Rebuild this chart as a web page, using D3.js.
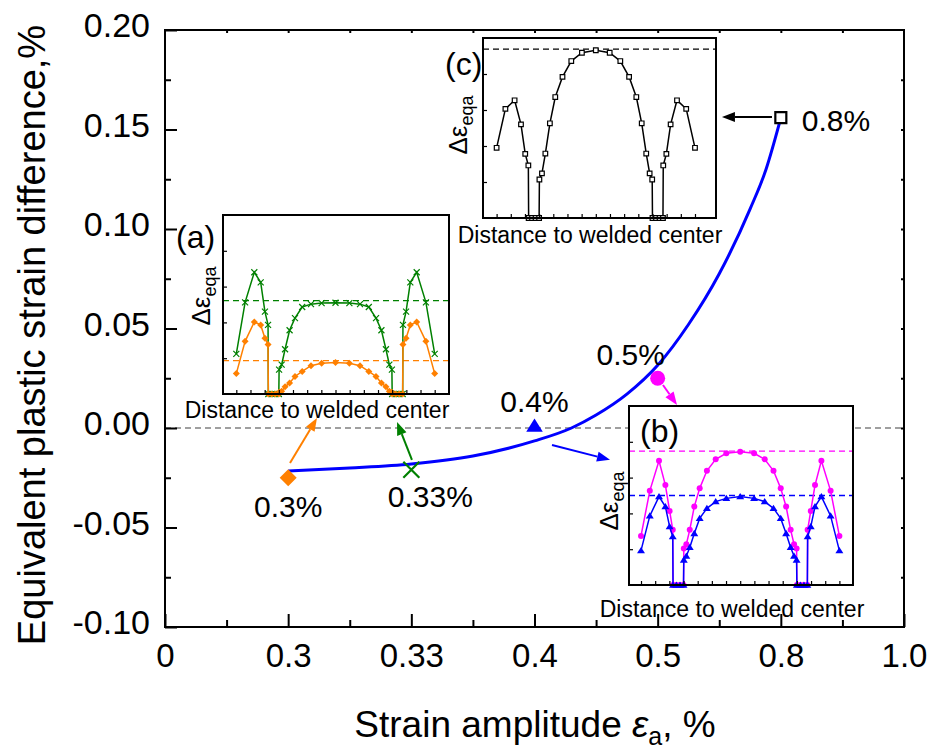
<!DOCTYPE html>
<html>
<head>
<meta charset="utf-8">
<script src="https://cdn.jsdelivr.net/npm/d3@7"></script>
<style>
body { margin: 0; background: #fff; }
svg { display: block; font-family: "Liberation Sans", Arial, sans-serif; }
</style>
</head>
<body>
<svg id="chart" width="930" height="753"></svg>
<script>
// main axis categories (evenly spaced)
const xLabels = ['0', '0.3', '0.33', '0.4', '0.5', '0.8', '1.0'];
const yTicks = [-0.10, -0.05, 0, 0.05, 0.10, 0.15, 0.20];

// measured points
const amplitudes = ['0.3%', '0.33%', '0.4%', '0.5%', '0.8%'];
const pointIdx = [1, 2, 3, 4, 5];
const pointDiff = [-0.025, -0.021, 0.001, 0.025, 0.156];
const pointColors = ['#ff8000', '#008000', '#0000ff', '#ff00ff', '#000000'];
const pointShapes = ['diamond', 'cross', 'triangle', 'circle', 'square'];

// fitted blue curve
const fitIdx = [1.0, 1.5, 2.0, 2.5, 3.0, 3.3, 3.5, 3.75, 4.0, 4.25, 4.5, 4.75, 4.88, 5.0];
const fitDiff = [-0.0216, -0.0201, -0.0181, -0.0141, -0.0065, 0.0, 0.0065, 0.0170, 0.0315, 0.0520, 0.0775, 0.1100, 0.1300, 0.1558];

// arrows from points to insets
const arrowFromIdx = [1.015, 2.005, 3.142, 4.043, 4.928];
const arrowFromVal = [-0.0176, -0.016, -0.0085, 0.0216, 0.1563];
const arrowToIdx = [1.234, 1.884, 3.613, 4.157, 4.522];
const arrowToVal = [0.005, 0.003, -0.016, 0.0116, 0.1563];

// inset profiles: distance to welded center (arb. units) and strain difference
const distPos = [-7.0, -6.38, -5.73, -5.28, -4.98, -4.76, -4.74, -4.5, -4.25, -4.0,
  -3.98, -3.8, -3.56, -3.24, -2.86, -2.35, -1.73, -0.98, 0, 0.98, 1.73, 2.35, 2.86, 3.24, 3.56, 3.8, 3.98,
  4.0, 4.25, 4.5, 4.74, 4.76, 4.98, 5.28, 5.73, 6.38, 7.0];
const prof033 = [1.12, 2.56, 3.40, 3.12, 2.30, 1.93, 0, 0, 0, 0,
  0.68, 0.82, 1.25, 1.78, 2.12, 2.43, 2.51, 2.54, 2.55, 2.54, 2.51, 2.43, 2.12, 1.78, 1.25, 0.82, 0.68,
  0, 0, 0, 0, 1.93, 2.30, 3.12, 3.40, 2.56, 1.12];
const prof03 = [0.57, 1.47, 2.01, 1.93, 1.56, 1.38, 0, 0, 0, 0,
  0.05, 0.08, 0.20, 0.31, 0.49, 0.63, 0.79, 0.86, 0.88, 0.86, 0.79, 0.63, 0.49, 0.31, 0.20, 0.08, 0.05,
  0, 0, 0, 0, 1.38, 1.56, 1.93, 2.01, 1.47, 0.57];
const prof05 = [1.37, 2.63, 3.47, 2.79, 2.07, 1.54, 0, 0, 0, 0,
  1.02, 1.14, 1.54, 2.19, 2.70, 3.19, 3.51, 3.68, 3.72, 3.68, 3.51, 3.19, 2.70, 2.19, 1.54, 1.14, 1.02,
  0, 0, 0, 0, 1.54, 2.07, 2.79, 3.47, 2.63, 1.37];
const prof04 = [0.96, 1.93, 2.47, 2.19, 1.63, 1.35, 0, 0, 0, 0,
  0.70, 0.81, 1.05, 1.44, 1.86, 2.14, 2.33, 2.42, 2.47, 2.42, 2.33, 2.14, 1.86, 1.44, 1.05, 0.81, 0.70,
  0, 0, 0, 0, 1.35, 1.63, 2.19, 2.47, 1.93, 0.96];
const prof08 = [1.95, 3.03, 3.27, 2.60, 1.78, 1.46, 0, 0, 0, 0,
  1.07, 1.24, 1.79, 2.63, 3.36, 3.92, 4.36, 4.59, 4.66, 4.59, 4.36, 3.92, 3.36, 2.63, 1.79, 1.24, 1.07,
  0, 0, 0, 0, 1.46, 1.78, 2.60, 3.27, 3.03, 1.95];
// level of the first peak for each profile (dashed lines)
const ref033 = 2.61, ref03 = 0.93, ref05 = 3.74, ref04 = 2.50, ref08 = 4.69;

const svg = d3.select('#chart');
const plot = { left: 165, right: 904, top: 30, bottom: 627 };

const x = d3.scaleLinear().domain([0, 6]).range([plot.left, plot.right]);
const y = d3.scaleLinear().domain([-0.10, 0.20]).range([plot.bottom, plot.top]);

function markerPath(kind, r) {
	switch (kind) {
		case 'diamond': return `M0,${-r}L${r},0L0,${r}L${-r},0Z`;
		case 'square': return `M${-r},${-r}H${r}V${r}H${-r}Z`;
		case 'triangle': return `M0,${-r}L${r * 1.1},${r * 0.75}L${-r * 1.1},${r * 0.75}Z`;
		case 'cross': return `M${-r},${-r}L${r},${r}M${r},${-r}L${-r},${r}`;
		default: return d3.symbol(d3.symbolCircle, Math.PI * r * r)();
	}
}

function styleMarker(sel, kind, color, sw) {
	if (kind === 'cross') sel.attr('fill', 'none').attr('stroke', color).attr('stroke-width', sw);
	else if (kind === 'square') sel.attr('fill', '#fff').attr('stroke', color).attr('stroke-width', sw);
	else sel.attr('fill', color).attr('stroke', 'none');
}

// zero line
svg.append('line')
	.attr('x1', plot.left).attr('x2', plot.right)
	.attr('y1', y(0)).attr('y2', y(0))
	.attr('stroke', '#808080').attr('stroke-width', 1.5).attr('stroke-dasharray', '6,4');

// axes
const xAxis = svg.append('g').attr('transform', `translate(0,${plot.bottom})`)
	.call(d3.axisBottom(x).tickValues(d3.range(7)).tickFormat((i) => xLabels[i])
		.tickSizeInner(-13).tickSizeOuter(0).tickPadding(17));
svg.append('g').attr('transform', `translate(0,${plot.bottom})`)
	.call(d3.axisBottom(x).tickValues(d3.range(0.5, 6, 1)).tickFormat('').tickSizeInner(-7).tickSizeOuter(0));
const yAxis = svg.append('g').attr('transform', `translate(${plot.left},0)`)
	.call(d3.axisLeft(y).tickValues(yTicks).tickFormat((d) => d.toFixed(2))
		.tickSizeInner(-12).tickSizeOuter(0).tickPadding(15));
svg.append('g').attr('transform', `translate(${plot.left},0)`)
	.call(d3.axisLeft(y).tickValues(d3.range(-0.075, 0.2, 0.05)).tickFormat('').tickSizeInner(-6).tickSizeOuter(0));
// small ticks on the opposite sides
svg.append('g').attr('transform', `translate(0,${plot.top})`)
	.call(d3.axisTop(x).tickValues(d3.range(0.5, 6, 0.5)).tickFormat('').tickSizeInner(-3).tickSizeOuter(0));
svg.append('g').attr('transform', `translate(${plot.right},0)`)
	.call(d3.axisRight(y).tickValues(d3.range(-0.075, 0.2, 0.025)).tickFormat('').tickSizeInner(-3).tickSizeOuter(0));

svg.selectAll('.domain').remove();
svg.selectAll('.tick line').attr('stroke', '#000').attr('stroke-width', 2);
svg.selectAll('g').attr('font-family', null).attr('font-size', null);
xAxis.selectAll('text').attr('font-size', 33).attr('fill', '#000');
yAxis.selectAll('text').attr('font-size', 34).attr('fill', '#000').attr('dy', '0.2em');

// fitted curve
const fit = fitIdx.map((d, i) => ({ i: d, v: fitDiff[i] }));
svg.append('path').datum(fit)
	.attr('fill', 'none').attr('stroke', '#0000ff').attr('stroke-width', 3)
	.attr('d', d3.line().x((d) => x(d.i)).y((d) => y(d.v)).curve(d3.curveMonotoneX));

// insets
const insets = [
	{ tag: '(a)', x0: 223, x1: 449, y0: 215, y1: 394, cx: 335.5, tagX: 176, tagY: 248,
		labX: 210, labY: 296, distX: 317, distY: 418,
		refs: [[ref033, '#008000'], [ref03, '#ff8000']],
		series: [
			{ v: prof033, color: '#008000', shape: 'cross', r: 3 },
			{ v: prof03, color: '#ff8000', shape: 'diamond', r: 3.5 }
		] },
	{ tag: '(b)', x0: 629, x1: 853, y0: 406, y1: 585, cx: 740.2, tagX: 640, tagY: 442,
		labX: 618, labY: 501, distX: 732, distY: 617,
		refs: [[ref05, '#ff00ff'], [ref04, '#0000ff']],
		series: [
			{ v: prof05, color: '#ff00ff', shape: 'circle', r: 3 },
			{ v: prof04, color: '#0000ff', shape: 'triangle', r: 3.6 }
		] },
	{ tag: '(c)', x0: 483, x1: 716, y0: 38, y1: 218, cx: 595.8, tagX: 445, tagY: 75,
		labX: 467, labY: 125, distX: 590, distY: 243,
		refs: [[ref08, '#000000']],
		series: [
			{ v: prof08, color: '#000000', shape: 'square', r: 2.3 }
		] }
];

const unitPx = 14.17;
insets.forEach((ins) => {
	const g = svg.append('g');
	const ix = d3.scaleLinear()
		.domain([(ins.x0 - ins.cx) / unitPx, (ins.x1 - ins.cx) / unitPx])
		.range([ins.x0, ins.x1]);
	const iy = d3.scaleLinear().domain([0, 5]).range([ins.y1, ins.y0]);

	g.append('rect').attr('x', ins.x0).attr('y', ins.y0)
		.attr('width', ins.x1 - ins.x0).attr('height', ins.y1 - ins.y0).attr('fill', '#fff');

	ins.refs.forEach(([lvl, c]) => {
		g.append('line').attr('x1', ins.x0).attr('x2', ins.x1).attr('y1', iy(lvl)).attr('y2', iy(lvl))
			.attr('stroke', c).attr('stroke-width', 1.3).attr('stroke-dasharray', '6,4');
	});

	ins.series.forEach((s) => {
		const pts = distPos.map((d, i) => ({ d: d, v: s.v[i] }));
		g.append('path').datum(pts)
			.attr('fill', 'none').attr('stroke', s.color).attr('stroke-width', 1.5)
			.attr('d', d3.line().x((p) => ix(p.d)).y((p) => iy(p.v)));
		const m = g.selectAll(null).data(pts).enter().append('path')
			.attr('transform', (p) => `translate(${ix(p.d)},${iy(p.v)})`)
			.attr('d', markerPath(s.shape, s.r));
		styleMarker(m, s.shape, s.color, 1.2);
	});

	// inset ticks
	g.append('g').attr('transform', `translate(0,${ins.y1})`)
		.call(d3.axisBottom(ix).tickValues(d3.range(-7, 8)).tickFormat('').tickSizeInner(-4).tickSizeOuter(0));
	g.append('g').attr('transform', `translate(${ins.x0},0)`)
		.call(d3.axisLeft(iy).tickValues([1, 2, 3, 4]).tickFormat('').tickSizeInner(-4).tickSizeOuter(0));
	g.selectAll('.domain').remove();
	g.selectAll('.tick line').attr('stroke', '#000').attr('stroke-width', 1.2);

	g.append('rect').attr('x', ins.x0).attr('y', ins.y0)
		.attr('width', ins.x1 - ins.x0).attr('height', ins.y1 - ins.y0)
		.attr('fill', 'none').attr('stroke', '#000').attr('stroke-width', 2);

	g.append('text').attr('x', ins.tagX).attr('y', ins.tagY)
		.attr('font-size', 32).text(ins.tag);

	const lab = g.append('text')
		.attr('transform', `translate(${ins.labX},${ins.labY}) rotate(-90)`)
		.attr('text-anchor', 'middle').attr('font-size', 26);
	lab.append('tspan').text('Δε');
	lab.append('tspan').attr('font-size', 18).attr('dy', '0.35em').text('eqa');

	g.append('text').attr('x', ins.distX).attr('y', ins.distY)
		.attr('text-anchor', 'middle').attr('font-size', 23).text('Distance to welded center');
});

// arrows
arrowFromIdx.forEach((fi, k) => {
	const x1 = x(fi), y1 = y(arrowFromVal[k]);
	const x2 = x(arrowToIdx[k]), y2 = y(arrowToVal[k]);
	const ang = Math.atan2(y2 - y1, x2 - x1);
	const len = 13, half = 5;
	const bx = x2 - len * Math.cos(ang), by = y2 - len * Math.sin(ang);
	svg.append('line').attr('x1', x1).attr('y1', y1).attr('x2', bx).attr('y2', by)
		.attr('stroke', pointColors[k]).attr('stroke-width', 2);
	svg.append('path')
		.attr('d', `M${x2},${y2}L${bx - half * Math.sin(ang)},${by + half * Math.cos(ang)}L${bx + half * Math.sin(ang)},${by - half * Math.cos(ang)}Z`)
		.attr('fill', pointColors[k]);
});

// measured points
const markerSize = [8.5, 8, 7.5, 7.5, 5.5];
pointIdx.forEach((pi, k) => {
	const m = svg.append('path')
		.attr('transform', `translate(${x(pi)},${y(pointDiff[k])})`)
		.attr('d', markerPath(pointShapes[k], markerSize[k]));
	styleMarker(m, pointShapes[k], pointColors[k], 2.2);
});

// point labels
const labelDx = [0, 19, 0, -27, 21];
const labelDy = [39, 37, -14, -13, 13];
const labelAnchor = ['middle', 'middle', 'middle', 'middle', 'start'];
amplitudes.forEach((t, k) => {
	svg.append('text')
		.attr('x', x(pointIdx[k]) + labelDx[k]).attr('y', y(pointDiff[k]) + labelDy[k])
		.attr('text-anchor', labelAnchor[k]).attr('font-size', 30).text(t);
});

// frame
svg.append('rect').attr('x', plot.left).attr('y', plot.top)
	.attr('width', plot.right - plot.left).attr('height', plot.bottom - plot.top)
	.attr('fill', 'none').attr('stroke', '#000').attr('stroke-width', 2);

// axis titles
const xt = svg.append('text').attr('x', 535).attr('y', 737)
	.attr('text-anchor', 'middle').attr('font-size', 37);
xt.append('tspan').text('Strain amplitude ');
xt.append('tspan').attr('font-style', 'italic').text('ε');
xt.append('tspan').attr('font-size', 25).attr('dy', '0.3em').text('a');
xt.append('tspan').attr('dy', '-0.2em').text(', %');

svg.append('text')
	.attr('transform', 'translate(45,335) rotate(-90)')
	.attr('text-anchor', 'middle').attr('font-size', 38)
	.text('Equivalent plastic strain difference,%');
</script>
</body>
</html>
